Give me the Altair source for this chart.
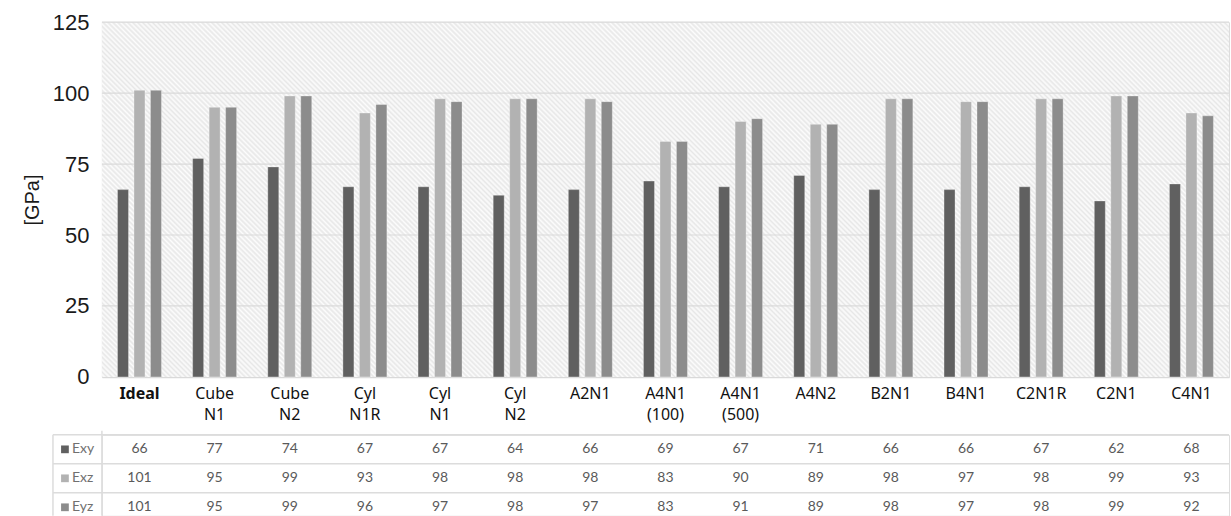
import altair as alt
import pandas as pd

# Specimen names and the three stiffness moduli (GPa)
categories = ["Ideal", "Cube N1", "Cube N2", "Cyl N1R", "Cyl N1", "Cyl N2", "A2N1",
              "A4N1 (100)", "A4N1 (500)", "A4N2", "B2N1", "B4N1", "C2N1R", "C2N1", "C4N1"]
series = ["Exy", "Exz", "Eyz"]
exy = [66, 77, 74, 67, 67, 64, 66, 69, 67, 71, 66, 66, 67, 62, 68]
exz = [101, 95, 99, 93, 98, 98, 98, 83, 90, 89, 98, 97, 98, 99, 93]
eyz = [101, 95, 99, 96, 97, 98, 97, 83, 91, 89, 98, 97, 98, 99, 92]
y_ticks = [0, 25, 50, 75, 100, 125]
colors = ["#606060", "#b2b2b2", "#8c8c8c"]

W, H = 1128, 355
TABLE_H = 81
ROW = 29

rows = []
for name, vals in zip(series, [exy, exz, eyz]):
    for cat, v in zip(categories, vals):
        rows.append({"category": cat, "series": name, "value": v})
df = pd.DataFrame(rows)
ser_df = pd.DataFrame({"series": series})
grid_df = pd.DataFrame({"tick": y_ticks})

x_scale = alt.Scale(domain=categories, paddingInner=0.415, paddingOuter=0.2075)
color_scale = alt.Scale(domain=series, range=colors)

# Diagonal hatch for the plot background, built as a striped linear gradient
# running perpendicular to 45-degree stripes in pixel space.
s = (H + W) / (H * H / W + W)
n_periods = 300
stops = []
for i in range(n_periods):
    stops.append(alt.GradientStop(offset=i / n_periods, color="#e7e7e7"))
    stops.append(alt.GradientStop(offset=(i + 0.5) / n_periods, color="#fcfcfc"))
stops.append(alt.GradientStop(offset=1.0, color="#e7e7e7"))
hatch = alt.LinearGradient(gradient="linear", stops=stops,
                           x1=0, y1=1, x2=s, y2=1 - s * H / W)

hatch_rect = alt.Chart(ser_df).mark_rect(color=hatch).encode(
    x=alt.value(0), x2=alt.value(W), y=alt.value(0), y2=alt.value(H)
).transform_filter(alt.datum.series == "Exy")

grid = alt.Chart(grid_df).mark_rule(color="#dadada", strokeWidth=1.2).encode(
    y=alt.Y("tick:Q", scale=alt.Scale(domain=[0, 125])),
    x=alt.value(0), x2=alt.value(W)
).transform_filter(alt.datum.tick > 0)

bars = alt.Chart(df).mark_bar(stroke="#ffffff", strokeWidth=0.6, strokeOpacity=0.5).encode(
    x=alt.X("category:N", sort=categories, scale=x_scale,
            axis=alt.Axis(title=None, labelAngle=0, ticks=False,
                          domainColor="#d9d9d9", domainWidth=1.5,
                          labelExpr="split(datum.label, ' ')",
                          labelFontWeight=alt.expr("datum.value == 'Ideal' ? 'bold' : 'normal'"),
                          labelFont="Noto Sans", labelFontSize=16, labelColor="#111111",
                          labelLineHeight=21, labelPadding=9, labelBaseline="top")),
    xOffset=alt.XOffset("series:N", sort=series,
                        scale=alt.Scale(domain=series, paddingInner=0.333, paddingOuter=0)),
    y=alt.Y("value:Q", scale=alt.Scale(domain=[0, 125]),
            axis=alt.Axis(values=y_ticks, title="[GPa]", grid=False, domain=False, ticks=False,
                          labelFont="Liberation Sans", labelFontSize=22, labelColor="#1a1a1a",
                          labelPadding=13, titleFont="Liberation Sans", titleFontSize=20,
                          titleFontWeight="normal", titleColor="#1a1a1a", titlePadding=10)),
    color=alt.Color("series:N", scale=color_scale, legend=None),
)

top = alt.layer(hatch_rect, grid, bars).properties(width=W, height=H)

# Data table under the chart
y_tab = alt.Y("series:N", sort=series, axis=None,
              scale=alt.Scale(domain=series, range=[0, ROW * 3], paddingInner=0, paddingOuter=0))
line_color = "#dcdcdc"

h_lines = alt.Chart(ser_df).mark_rule(color=line_color, strokeWidth=1.5).encode(
    y=alt.Y("series:N", sort=series, axis=None, bandPosition=0,
            scale=alt.Scale(domain=series, range=[0, ROW * 3], paddingInner=0, paddingOuter=0)),
    x=alt.value(-49), x2=alt.value(W)
)
v_left = alt.Chart(ser_df).mark_rule(color=line_color, strokeWidth=1.5).encode(
    x=alt.value(-49), y=alt.value(0), y2=alt.value(TABLE_H)
).transform_filter(alt.datum.series == "Exy")
v_axis = alt.Chart(ser_df).mark_rule(color=line_color, strokeWidth=1.5).encode(
    x=alt.value(0), y=alt.value(-4), y2=alt.value(TABLE_H)
).transform_filter(alt.datum.series == "Exy")

swatches = alt.Chart(ser_df).mark_square(size=60, opacity=1).encode(
    x=alt.value(-37), y=y_tab,
    color=alt.Color("series:N", scale=color_scale, legend=None)
)
row_names = alt.Chart(ser_df).mark_text(align="left", baseline="middle", font="Lato",
                                        fontSize=14, color="#707070").encode(
    x=alt.value(-30), y=y_tab, text="series:N"
)
cells = alt.Chart(df).mark_text(baseline="middle", font="Lato", fontSize=14,
                                color="#5a5a5a").encode(
    x=alt.X("category:N", sort=categories, scale=x_scale, axis=None),
    y=y_tab, text="value:Q"
)

table = alt.layer(h_lines, v_left, v_axis, swatches, row_names, cells).properties(
    width=W, height=TABLE_H
)

chart = alt.vconcat(top, table, spacing=5).properties(
    padding={"left": 21, "top": 10, "right": 0, "bottom": 0}
).configure_view(stroke="transparent").configure(background="#ffffff")

chart.save("out.html", embed_options={"renderer": "svg", "actions": False})
